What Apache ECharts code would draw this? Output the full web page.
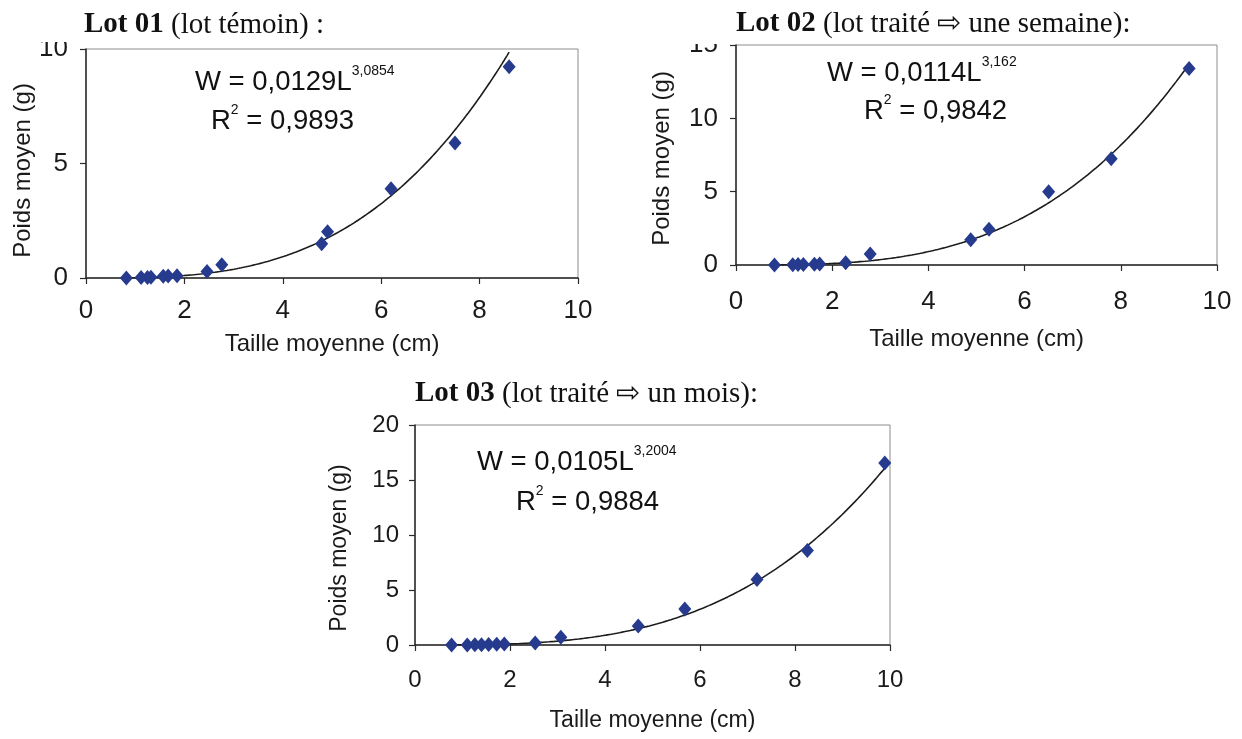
<!DOCTYPE html>
<html lang="fr">
<head>
<meta charset="utf-8">
<title>Relation taille – poids moyen par lot</title>
<script src="https://cdn.jsdelivr.net/npm/echarts@6/dist/echarts.min.js"></script>
<style>
  html, body { margin: 0; padding: 0; background: #ffffff; }
  #chart { width: 1242px; height: 739px; }
</style>
</head>
<body>
<div id="chart"></div>
<script>
// ---- Mesures : taille moyenne (cm) et poids moyen (g) ----
// Lot 01 : lot témoin
const lot1Taille = [0.82, 1.12, 1.25, 1.32, 1.57, 1.67, 1.85, 2.46, 2.76, 4.79, 4.91, 6.20, 7.50, 8.60];
const lot1Poids  = [0.00, 0.02, 0.02, 0.03, 0.08, 0.09, 0.10, 0.28, 0.58, 1.50, 2.02, 3.90, 5.90, 9.23];
// Lot 02 : traité une semaine
const lot2Taille = [0.80, 1.18, 1.29, 1.40, 1.63, 1.74, 2.28, 2.79, 4.88, 5.26, 6.50, 7.80, 9.42];
const lot2Poids  = [0.00, 0.02, 0.03, 0.03, 0.05, 0.07, 0.16, 0.75, 1.72, 2.44, 5.00, 7.24, 13.40];
// Lot 03 : traité un mois
const lot3Taille = [0.77, 1.10, 1.26, 1.40, 1.55, 1.72, 1.88, 2.53, 3.07, 4.70, 5.68, 7.20, 8.26, 9.89];
const lot3Poids  = [0.00, 0.01, 0.02, 0.03, 0.05, 0.06, 0.08, 0.18, 0.70, 1.72, 3.28, 5.96, 8.60, 16.55];

// ---- Ajustements puissance W = a·L^b ----
const fitA       = [0.0129, 0.0114, 0.0105];
const fitB       = [3.0854, 3.162, 3.2004];
const fitCoefTxt = ['0,0129', '0,0114', '0,0105'];
const fitExpTxt  = ['3,0854', '3,162', '3,2004'];
const fitR2Txt   = ['0,9893', '0,9842', '0,9884'];

// ---- Titres et axes ----
const lotBold  = ['Lot 01', 'Lot 02', 'Lot 03'];
const lotRest  = [' (lot témoin) :', ' (lot traité \u21E8 une semaine):', ' (lot traité \u21E8 un mois):'];
const xMin = 0, xMax = 10, xStep = 2;
const yMaxes = [10, 15, 20];
const yStep = 5;
const xName = 'Taille moyenne (cm)';
const yName = 'Poids moyen (g)';

const tailles = [lot1Taille, lot2Taille, lot3Taille];
const poids   = [lot1Poids, lot2Poids, lot3Poids];

// Layout of the three panels
const panels = [
  { grid: { left: 86,  top: 49,  width: 492, height: 229 },
    tickSize: 26, nameSize: 24, xMargin: 20, yMargin: 18, xGap: 54, yGap: 50, yShift: 14,
    title: [84, 25],  eq: [[195, 82], [211, 121]] },
  { grid: { left: 736, top: 45,  width: 481, height: 220 },
    tickSize: 26, nameSize: 24, xMargin: 24, yMargin: 18, xGap: 62, yGap: 62, yShift: 7,
    title: [736, 24], eq: [[827, 73], [864, 111]] },
  { grid: { left: 415, top: 425, width: 475, height: 220 },
    tickSize: 24, nameSize: 23, xMargin: 23, yMargin: 16, xGap: 64, yGap: 64, yShift: 26,
    title: [415, 394], eq: [[477, 462], [516, 502]] }
];

const SANS = '"Liberation Sans", Arial, sans-serif';
const SERIF = '"Liberation Serif", "Times New Roman", serif';
const MARK = '#273b8e';

// Sample the fitted power curve across the measured size range
function fitCurve(a, b, xs) {
  const lo = Math.min(...xs), hi = Math.max(...xs), n = 160;
  const pts = [];
  for (let i = 0; i <= n; i++) {
    const L = lo + (hi - lo) * i / n;
    pts.push([L, a * Math.pow(L, b)]);
  }
  return pts;
}

const grids = [], xAxes = [], yAxes = [], series = [], graphics = [];

panels.forEach((p, i) => {
  grids.push(Object.assign({
    show: true, borderColor: '#8c8c8c', borderWidth: 1, backgroundColor: 'transparent',
    containLabel: false, outerBoundsMode: 'none'
  }, p.grid));

  xAxes.push({
    gridIndex: i, type: 'value', min: xMin, max: xMax, interval: xStep,
    name: xName, nameLocation: 'middle', nameGap: p.xGap,
    nameTextStyle: { fontFamily: SANS, fontSize: p.nameSize, color: '#1a1a1a' },
    axisLine: { show: true, onZero: false, lineStyle: { color: '#2a2a2a', width: 1.5 } },
    axisTick: { show: true, inside: false, length: 6, lineStyle: { color: '#2a2a2a', width: 1.2 } },
    axisLabel: { fontFamily: SANS, fontSize: p.tickSize, color: '#1a1a1a', margin: p.xMargin },
    splitLine: { show: false }
  });

  yAxes.push({
    gridIndex: i, type: 'value', min: 0, max: yMaxes[i], interval: yStep,
    name: yName, nameLocation: 'middle', nameGap: p.yGap, nameRotate: 90,
    nameTextStyle: { fontFamily: SANS, fontSize: p.nameSize, color: '#1a1a1a', padding: [0, p.yShift, 0, 0] },
    axisLine: { show: true, onZero: false, lineStyle: { color: '#2a2a2a', width: 1.5 } },
    axisTick: { show: true, inside: false, length: 6, lineStyle: { color: '#2a2a2a', width: 1.2 } },
    axisLabel: { fontFamily: SANS, fontSize: p.tickSize, color: '#1a1a1a', margin: p.yMargin },
    splitLine: { show: false }
  });

  // fitted trend curve
  series.push({
    type: 'line', xAxisIndex: i, yAxisIndex: i,
    data: fitCurve(fitA[i], fitB[i], tailles[i]),
    showSymbol: false, smooth: false, clip: true, silent: true,
    lineStyle: { color: '#1c1c1c', width: 1.6 }, z: 2
  });

  // measured points
  series.push({
    type: 'scatter', xAxisIndex: i, yAxisIndex: i,
    data: tailles[i].map((t, k) => [t, poids[i][k]]),
    symbol: 'diamond', symbolSize: [13, 15],
    itemStyle: { color: MARK, opacity: 1 }, z: 3
  });

  // panel title
  graphics.push({
    type: 'text', x: p.title[0], y: p.title[1], z: 10,
    style: {
      text: '{b|' + lotBold[i] + '}{r|' + lotRest[i] + '}',
      verticalAlign: 'middle', align: 'left',
      rich: {
        b: { fontFamily: SERIF, fontWeight: 'bold', fontSize: 29, fill: '#111' },
        r: { fontFamily: SERIF, fontSize: 29, fill: '#111' }
      }
    }
  });

  // equation and R²
  const eqRich = {
    m: { fontFamily: SANS, fontSize: 27.5, lineHeight: 36, fill: '#111' },
    s: { fontFamily: SANS, fontSize: 14, lineHeight: 14, verticalAlign: 'top', fill: '#111' }
  };
  graphics.push({
    type: 'text', x: p.eq[0][0], y: p.eq[0][1], z: 10,
    style: { text: '{m|W = ' + fitCoefTxt[i] + 'L}{s|' + fitExpTxt[i] + '}', verticalAlign: 'middle', align: 'left', rich: eqRich }
  });
  graphics.push({
    type: 'text', x: p.eq[1][0], y: p.eq[1][1], z: 10,
    style: { text: '{m|R}{s|2}{m| = ' + fitR2Txt[i] + '}', verticalAlign: 'middle', align: 'left', rich: eqRich }
  });
});

// white heading band trims the top tick label of the first two panels
graphics.push({ type: 'rect', z: 20, shape: { x: 20, y: 0, width: 62, height: 42 }, style: { fill: '#ffffff' } });
graphics.push({ type: 'rect', z: 20, shape: { x: 672, y: 0, width: 60, height: 44 }, style: { fill: '#ffffff' } });

const chart = echarts.init(document.getElementById('chart'), null, { renderer: 'canvas' });
chart.setOption({
  backgroundColor: '#ffffff',
  animation: false,
  grid: grids,
  xAxis: xAxes,
  yAxis: yAxes,
  series: series,
  graphic: graphics
});
</script>
</body>
</html>
